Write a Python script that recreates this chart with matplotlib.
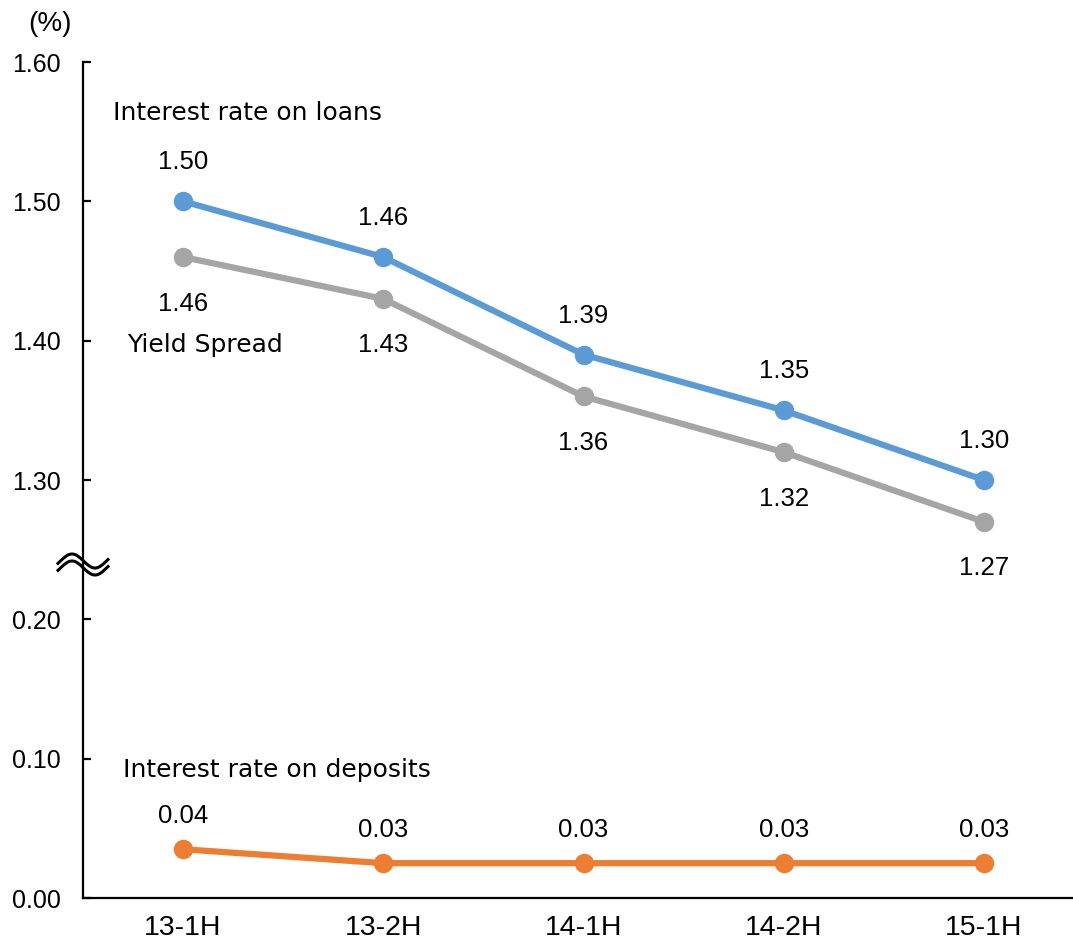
import numpy as np
import matplotlib
matplotlib.use("Agg")
import matplotlib.pyplot as plt
from matplotlib.lines import Line2D

plt.rcParams['font.family'] = ['Liberation Sans', 'DejaVu Sans']

periods = ['13-1H', '13-2H', '14-1H', '14-2H', '15-1H']
loans = [1.50, 1.46, 1.39, 1.35, 1.30]
spread = [1.46, 1.43, 1.36, 1.32, 1.27]
deposits = [0.035, 0.025, 0.025, 0.025, 0.025]

# upper panel values are shifted down by 1.0 so both ranges share one axis
OFFSET = 1.0
ytick_pos = [0.0, 0.1, 0.2, 0.3, 0.4, 0.5, 0.6]
ytick_lab = ['0.00', '0.10', '0.20', '1.30', '1.40', '1.50', '1.60']

BLUE = '#5B9BD5'
GRAY = '#A5A5A5'
ORANGE = '#ED7D31'
FS_NUM = 18.5
FS_TXT = 18

W, H = 1073, 947
fig = plt.figure(figsize=(W / 100, H / 100), dpi=100)
ax = fig.add_axes([83/W, 49/H, 990/W, 836/H])

x = np.arange(len(periods))
up = np.array(loans) - OFFSET
ys = np.array(spread) - OFFSET

ax.plot(x, up, color=BLUE, lw=4.5, marker='o', ms=13, zorder=3)
ax.plot(x, ys, color=GRAY, lw=4.5, marker='o', ms=13, zorder=3)
ax.plot(x, deposits, color=ORANGE, lw=4.5, marker='o', ms=13, zorder=3)

for xi, v, p in zip(x, loans, up):
    ax.annotate(f'{v:.2f}', (xi, p), xytext=(0, 28), textcoords='offset points',
                ha='center', va='center', fontsize=FS_NUM)
for xi, v, p in zip(x, spread, ys):
    ax.annotate(f'{v:.2f}', (xi, p), xytext=(0, -33.5), textcoords='offset points',
                ha='center', va='center', fontsize=FS_NUM)
for xi, v in zip(x, deposits):
    ax.annotate(f'{v:.2f}', (xi, v), xytext=(0, 24), textcoords='offset points',
                ha='center', va='center', fontsize=FS_NUM)

lab_font = dict(fontsize=FS_TXT, family='DejaVu Sans', ha='left', va='center')
ax.text(-0.35, 0.5635, 'Interest rate on loans', **lab_font)
ax.text(-0.28, 0.397, 'Yield Spread', **lab_font)
ax.text(-0.30, 0.0919, 'Interest rate on deposits', **lab_font)

ax.set_xlim(-0.5, 4.445)
ax.set_ylim(0, 0.6)
ax.set_xticks(x)
ax.set_xticklabels(periods, fontsize=20.5)
ax.set_yticks(ytick_pos)
ax.set_yticklabels(ytick_lab, fontsize=18)
ax.tick_params(axis='y', direction='in', length=6, width=1.6, pad=16)
ax.tick_params(axis='x', length=0, pad=12)
for s in ['top', 'right']:
    ax.spines[s].set_visible(False)
for s in ['left', 'bottom']:
    ax.spines[s].set_linewidth(1.6)

# axis break mark: two tilde waves across the left spine (pixel coords)
bx = np.linspace(58, 108, 80)
for cy in (561, 568):
    by = cy - 7 * np.sin(2 * np.pi * (bx - 60.5) / 46)
    fig.add_artist(Line2D(bx / W, 1 - by / H, color='black', lw=2.2,
                          transform=fig.transFigure, zorder=6))

fig.text(50/W, 1 - 24/H, '(%)', fontsize=20, ha='center', va='center')

fig.savefig('out.png', dpi=100)
